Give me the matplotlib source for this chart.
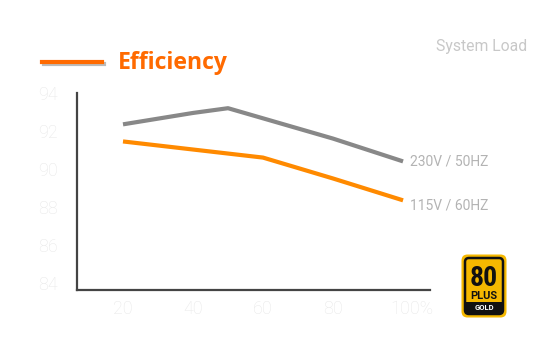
import matplotlib.pyplot as plt
from matplotlib.patches import FancyBboxPatch, Rectangle
from matplotlib.transforms import ScaledTranslation

# data
load_230 = [20, 40, 50, 80, 100]
eff_230 = [92.35, 92.95, 93.2, 91.6, 90.4]
load_115 = [20, 60, 80, 100]
eff_115 = [91.45, 90.6, 89.5, 88.35]
x_ticks = [20, 40, 60, 80, 100]
x_labels = ['20', '40', '60', '80', '100%']
y_ticks = [84, 86, 88, 90, 92, 94]

def main():
    plt.rcParams['font.family'] = ['Roboto', 'DejaVu Sans']
    fig = plt.figure(figsize=(5.5, 3.6), dpi=100)
    ax = fig.add_axes([77/550, 1-290/360, (430-77)/550, (290-93)/360])

    ax.plot(load_230, eff_230, color='#888888', lw=3.0, solid_capstyle='butt')
    ax.plot(load_115, eff_115, color='#ff8a00', lw=3.0, solid_capstyle='butt')

    ax.set_xlim(6.86, 107.7)
    ax.set_ylim(83.63, 94)
    ax.set_xticks(x_ticks)
    ax.set_xticklabels(x_labels)
    ax.set_yticks(y_ticks)
    ax.tick_params(length=0, labelsize=13, labelcolor='#e8e8e8')
    ax.tick_params(axis='y', pad=14)
    ax.tick_params(axis='x', pad=7)
    for lab in ax.get_xticklabels() + ax.get_yticklabels():
        lab.set_fontweight('light')
    # "100" sits on the tick, the % hangs to the right
    last = ax.get_xticklabels()[-1]
    last.set_transform(last.get_transform() + ScaledTranslation(0.09, 0, fig.dpi_scale_trans))
    for s in ['top', 'right']:
        ax.spines[s].set_visible(False)
    for s in ['left', 'bottom']:
        ax.spines[s].set_color('#444444')
        ax.spines[s].set_linewidth(1.6)

    ax.text(102.0, eff_230[-1], '230V / 50HZ', color='#b3b3b3', fontsize=10,
            va='center', ha='left', clip_on=False)
    ax.text(102.0, eff_115[-1] - 0.25, '115V / 60HZ', color='#b3b3b3', fontsize=10,
            va='center', ha='left', clip_on=False)

    # title and legend swatch
    fig.lines.append(plt.Line2D([44/550, 104/550], [1-64/360, 1-64/360], transform=fig.transFigure,
                                color='#bbbbbb', lw=3))
    fig.lines.append(plt.Line2D([42/550, 102/550], [1-62/360, 1-62/360], transform=fig.transFigure,
                                color='#ff6a00', lw=3))
    fig.text(118/550, 1-63/360, 'Efficiency', color='#ff6a00', fontsize=16.6, fontweight='bold',
             family=['Open Sans', 'DejaVu Sans'], va='center', ha='left')
    fig.text(527/550, 1-46/360, 'System Load', color='#c8c8c8', fontsize=11.3,
             va='center', ha='right')

    # 80 PLUS gold badge
    bx = fig.add_axes([460/550, 1-319/360, 48/550, 66/360])
    bx.set_xlim(0, 48)
    bx.set_ylim(0, 66)
    bx.axis('off')
    bx.add_patch(FancyBboxPatch((1.5, 1.5), 45, 63, boxstyle='round,pad=0,rounding_size=6',
                                fc='#f5b800', ec='none'))
    bx.add_patch(FancyBboxPatch((5, 5), 38, 56, boxstyle='round,pad=0,rounding_size=4',
                                fc='#f5b800', ec='#111111', lw=1.8))
    bx.add_patch(Rectangle((5, 5), 38, 12, fc='#111111', ec='none'))
    bx.text(24, 41, '80', fontsize=20, fontweight='bold', color='#111111', ha='center', va='center',
            family=['Roboto Condensed', 'Roboto', 'DejaVu Sans'])
    bx.text(24, 23, 'PLUS', fontsize=8, fontweight='bold', color='#111111', ha='center', va='center')
    bx.text(24, 11, 'GOLD', fontsize=5.5, fontweight='bold', color='white', ha='center', va='center')

    fig.savefig('out.png', dpi=100, facecolor='white')

if __name__ == '__main__':
    main()
